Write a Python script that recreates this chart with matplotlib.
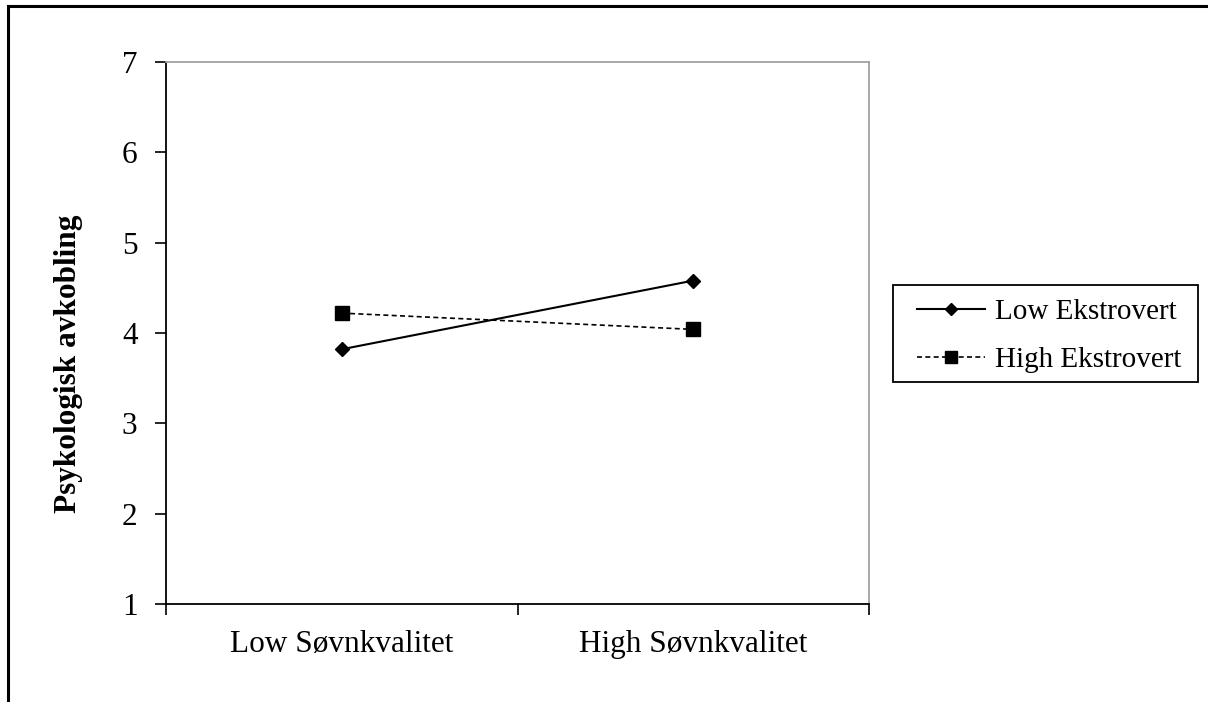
import matplotlib.pyplot as plt
from matplotlib.patches import Rectangle

categories = ['Low Søvnkvalitet', 'High Søvnkvalitet']
low_ekstrovert = [3.82, 4.58]
high_ekstrovert = [4.22, 4.04]

plt.rcParams['font.family'] = ['Liberation Serif', 'DejaVu Serif']

W, H = 1208, 702
fig = plt.figure(figsize=(W / 100, H / 100), dpi=100)
ax = fig.add_axes([166 / W, 1 - 604 / H, (869 - 166) / W, (604 - 62) / H])

x = [0.5, 1.5]
ax.plot(x, low_ekstrovert, color='black', linestyle='-', linewidth=1.5,
        marker='D', markersize=7.5, label='Low Ekstrovert')
ax.plot(x, high_ekstrovert, color='black', linestyle=(0, (3, 2)), linewidth=1.2,
        marker='s', markersize=10, label='High Ekstrovert')

ax.set_xlim(0, 2)
ax.set_ylim(1, 7)
ax.set_yticks(range(1, 8))
ax.set_xticks([0, 1, 2])
ax.set_xticklabels([])
ax.set_xticks(x, minor=True)
ax.set_xticklabels(categories, minor=True)
ax.tick_params(axis='x', which='minor', length=0, pad=19, labelsize=22.5)
ax.tick_params(axis='x', which='major', direction='out', length=8, width=1.2)
ax.tick_params(axis='y', direction='out', length=8, width=1.2, labelsize=22.5, pad=12.5)

for side in ['left', 'bottom']:
    ax.spines[side].set_color('black')
    ax.spines[side].set_linewidth(1.3)
for side in ['top', 'right']:
    ax.spines[side].set_color('#a0a0a0')
    ax.spines[side].set_linewidth(1.3)

ax.set_ylabel('Psykologisk avkobling', fontsize=22.5, fontweight='bold')
ax.yaxis.set_label_coords(-0.118, 0.443)

# legend without its own frame, box drawn separately
leg = ax.legend(loc='upper left', bbox_to_anchor=(917 / W, 1 - 299 / H),
                bbox_transform=fig.transFigure, fontsize=21, frameon=False,
                handlelength=2.33, handletextpad=0.35, borderaxespad=0, borderpad=0,
                labelspacing=0.73, markerscale=0.85)
fig.patches.append(Rectangle((893 / W, 1 - 382 / H), (1198 - 893) / W, (382 - 285) / H,
                             transform=fig.transFigure, fill=False, edgecolor='black', linewidth=1.3))

# outer chart frame
fig.patches.append(Rectangle((8 / W, -0.05), 1.1, 1 - 6 / H + 0.05, transform=fig.transFigure,
                             fill=False, edgecolor='black', linewidth=2.2))

fig.savefig('out.png', dpi=100)
